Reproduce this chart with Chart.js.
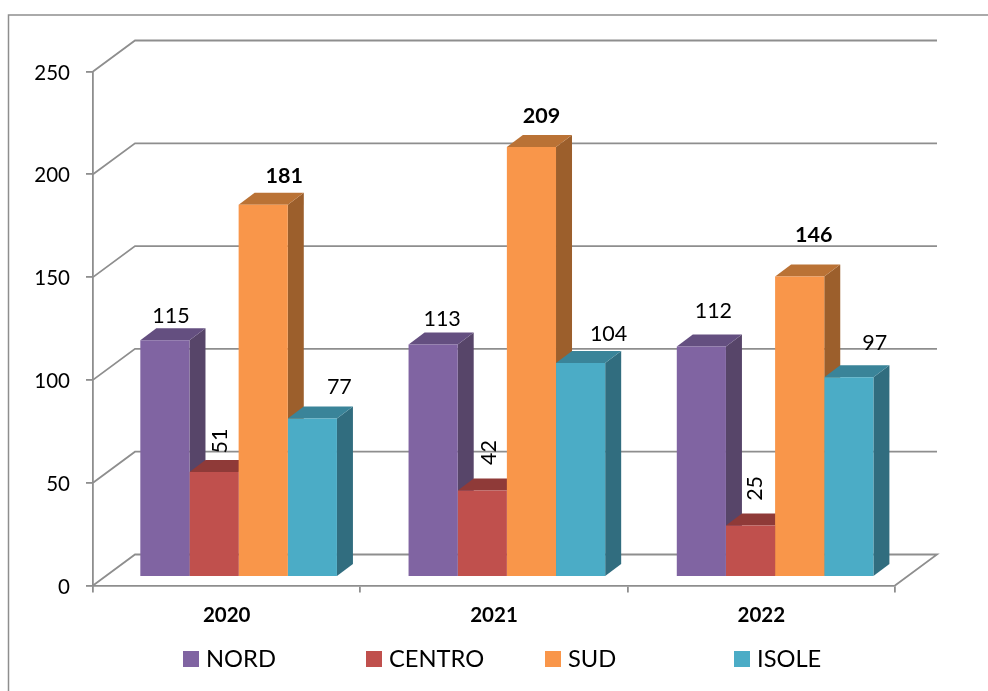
<!DOCTYPE html>
<html>
<head>
<meta charset="utf-8">
<style>html,body{margin:0;padding:0;background:#fff}canvas{display:block}</style>
<script src="https://cdn.jsdelivr.net/npm/chart.js@4"></script>
</head>
<body>
<div style="width:988px;height:691px;position:relative"><canvas id="c" width="988" height="691"></canvas></div>
<script>
const categories = ["2020", "2021", "2022"];
const seriesNames = ["NORD", "CENTRO", "SUD", "ISOLE"];
const nord = [115, 113, 112];
const centro = [51, 42, 25];
const sud = [181, 209, 146];
const isole = [77, 104, 97];
const yTicks = [0, 50, 100, 150, 200, 250];

const frontColors = ["#8064A2", "#C0504D", "#F9964A", "#4BACC6"];
const sideColors = ["#574569", "#8A3735", "#9C5F2C", "#316D7F"];
const topColors = ["#644F80", "#8F3A38", "#BA7235", "#3A8499"];
const FONT = "Lato, Carlito, sans-serif";
const GRID = "#8E8E8E";

// label placement relative to each bar's front top-centre (series, then category)
const labelShift = [
  [[6, -24], [9, -25], [12, -35]],
  [[6, -31], [7, -38], [5, -37]],
  [[21, -29], [10, -31], [14, -42]],
  [[27, -31], [28, -29], [26, -34]]
];
const boldSeries = 2, rotatedSeries = 1;
const legendX = [183, 366, 545, 734];

// projection of the bars into the middle of the floor depth
const kx = 1.00337, ex = 11.2, dy = -8.7;
const depth3d = {
  id: "depth3d",
  beforeDatasetsDraw(chart) {
    const ctx = chart.ctx, y = chart.scales.y, a = chart.chartArea;
    const wallX = 42, wallY = 31;
    ctx.save();
    ctx.strokeStyle = "#8E8E8E"; ctx.lineWidth = 1.5;
    ctx.beginPath(); ctx.moveTo(8.5, 691); ctx.lineTo(8.5, 15); ctx.lineTo(988, 15); ctx.stroke();
    ctx.strokeStyle = GRID; ctx.lineWidth = 1.8;
    yTicks.forEach(v => {
      const p = y.getPixelForValue(v);
      ctx.beginPath();
      ctx.moveTo(a.left, p);
      ctx.lineTo(a.left + wallX, p - wallY);
      ctx.lineTo(a.right + wallX, p - wallY);
      if (v === 0) ctx.lineTo(a.right, p);
      ctx.stroke();
    });
    const ox = 16, oy = 12;
    for (let c = 0; c < categories.length; c++) {
      for (let s = 0; s < seriesNames.length; s++) {
        const b = chart.getDatasetMeta(s).data[c];
        const l = (b.x - b.width / 2) * kx + ex, r = (b.x + b.width / 2) * kx + ex, t = b.y + dy, bt = b.base + dy;
        ctx.fillStyle = sideColors[s];
        ctx.beginPath(); ctx.moveTo(r, t); ctx.lineTo(r + ox, t - oy); ctx.lineTo(r + ox, bt - oy); ctx.lineTo(r, bt); ctx.closePath(); ctx.fill();
        ctx.fillStyle = topColors[s];
        ctx.beginPath(); ctx.moveTo(l, t); ctx.lineTo(l + ox, t - oy); ctx.lineTo(r + ox, t - oy); ctx.lineTo(r, t); ctx.closePath(); ctx.fill();
      }
    }
    ctx.restore();
    ctx.save();
    ctx.transform(kx, 0, 0, 1, ex, dy);
  },
  afterDatasetsDraw(chart) {
    const ctx = chart.ctx;
    ctx.restore();
    ctx.save();
    ctx.fillStyle = "#000";
    ctx.textAlign = "center"; ctx.textBaseline = "middle";
    chart.data.datasets.forEach((ds, s) => {
      chart.getDatasetMeta(s).data.forEach((b, c) => {
        const x = b.x * kx + ex + labelShift[s][c][0], yy = b.y + dy + labelShift[s][c][1];
        ctx.font = (s === boldSeries ? "bold " : "") + "21.5px " + FONT;
        ctx.save();
        ctx.translate(x, yy);
        if (s === rotatedSeries) ctx.rotate(-Math.PI / 2);
        ctx.fillText(String(ds.data[c]), 0, 0);
        ctx.restore();
      });
    });
    ctx.textAlign = "left";
    ctx.font = "23.7px " + FONT;
    chart.data.datasets.forEach((ds, s) => {
      ctx.fillStyle = frontColors[s];
      ctx.fillRect(legendX[s], 651, 16, 16);
      ctx.fillStyle = "#000";
      ctx.fillText(ds.label, legendX[s] + 23, 659);
    });
    ctx.restore();
  }
};

new Chart(document.getElementById("c"), {
  type: "bar",
  data: {
    labels: categories,
    datasets: [nord, centro, sud, isole].map((d, i) => ({
      label: seriesNames[i],
      data: d,
      backgroundColor: frontColors[i],
      borderWidth: 0,
      clip: false,
      categoryPercentage: 0.733,
      barPercentage: 1
    }))
  },
  plugins: [depth3d],
  options: {
    responsive: false,
    animation: false,
    layout: { padding: { left: 0, right: 93, top: 71.5, bottom: 0 } },
    plugins: { legend: { display: false }, title: { display: false }, tooltip: { enabled: false } },
    scales: {
      x: {
        afterFit(s) { s.height = 105.5; },
        grid: { drawOnChartArea: false, color: GRID, lineWidth: 1.8, tickLength: 7 },
        border: { color: GRID, width: 1.8 },
        ticks: { color: "#000", font: { family: FONT, size: 20.5, weight: "bold" }, padding: 11, maxRotation: 0 }
      },
      y: {
        min: 0, max: 250,
        afterFit(s) { s.width = 93; },
        afterBuildTicks(s) { s.ticks = yTicks.map(v => ({ value: v })); },
        grid: { drawOnChartArea: false, color: GRID, lineWidth: 1.8, tickLength: 7 },
        border: { color: GRID, width: 1.8 },
        ticks: { color: "#000", font: { family: FONT, size: 20.5 }, padding: 16, labelOffset: 1.5 }
      }
    }
  }
});
</script>
</body>
</html>
